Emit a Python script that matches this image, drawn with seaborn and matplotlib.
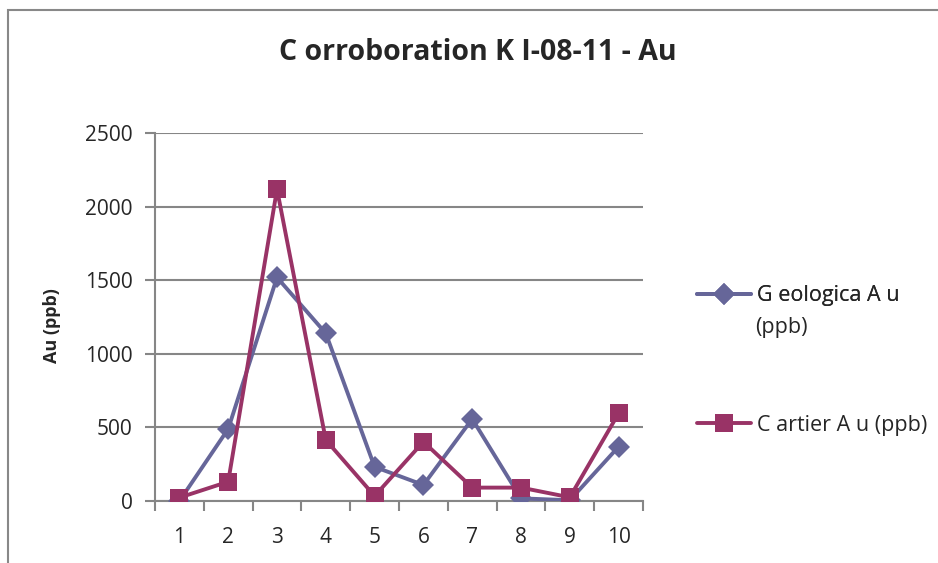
import matplotlib
matplotlib.use("Agg")
import matplotlib.pyplot as plt
import seaborn as sns
import pandas as pd
import numpy as np
from matplotlib.patches import Rectangle
from matplotlib.lines import Line2D

samples = [1, 2, 3, 4, 5, 6, 7, 8, 9, 10]
geologica_au = [0, 490, 1520, 1140, 232, 109, 558, 18, 5, 369]
cartier_au = [23, 131, 2120, 415, 34, 403, 91, 91, 25, 596]
series_names = ["G eologica A u (ppb)", "C artier A u (ppb)"]
y_ticks = [0, 500, 1000, 1500, 2000, 2500]
title = "C orroboration K I-08-11 - Au"
y_label = "Au (ppb)"

geo_color = "#666699"
car_color = "#993366"
grid_color = "#868686"

sns.set_theme(style="white")
plt.rcParams["font.family"] = ["Open Sans", "DejaVu Sans"]

df = pd.DataFrame({
    "sample": samples * 2,
    "value": geologica_au + cartier_au,
    "series": [series_names[0]] * len(samples) + [series_names[1]] * len(samples),
})

fig = plt.figure(figsize=(9.38, 5.63), dpi=100)
fig.patch.set_facecolor("white")
ax = fig.add_axes([155 / 938, 1 - 501 / 563, 488 / 938, (501 - 133.3) / 563])

# chart border
fig.add_artist(Rectangle((8 / 938, -0.05), 1.1, 1 - 10 / 563 + 0.05, transform=fig.transFigure,
                         fill=False, edgecolor="#888888", linewidth=1.5))

sns.lineplot(data=df[df.series == series_names[0]], x="sample", y="value", ax=ax,
             color=geo_color, marker="D", markersize=11, markeredgewidth=0,
             linewidth=2.8, legend=False, zorder=3)
sns.lineplot(data=df[df.series == series_names[1]], x="sample", y="value", ax=ax,
             color=car_color, marker="s", markersize=13.5, markeredgewidth=0,
             linewidth=2.8, legend=False, zorder=4)

ax.set_xlim(0.5, 10.5)
ax.set_ylim(0, 2500)
ax.set_yticks(y_ticks)
ax.set_yticklabels([str(v) for v in y_ticks], fontsize=15)
ax.yaxis.grid(True, color=grid_color, linewidth=1.5)
ax.set_axisbelow(True)

ax.set_xticks(np.arange(0.5, 11, 1.0))
ax.set_xticklabels([])
ax.set_xticks(samples, minor=True)
ax.set_xticklabels([str(s) for s in samples], minor=True, fontsize=15)
ax.tick_params(axis="x", which="major", direction="out", length=7, width=1.5, color=grid_color, bottom=True)
ax.tick_params(axis="x", which="minor", length=0, pad=19, bottom=True)
ax.tick_params(axis="y", direction="out", length=7, width=1.5, color=grid_color, pad=9, left=True)

for side in ["top", "right"]:
    ax.spines[side].set_visible(False)
for side in ["left", "bottom"]:
    ax.spines[side].set_color(grid_color)
    ax.spines[side].set_linewidth(1.5)

ax.set_xlabel("")
ax.set_ylabel("")
fig.text(52 / 938, 1 - 326 / 563, y_label, rotation=90, ha="center", va="center",
         fontsize=13, fontweight="bold")
fig.text(478 / 938, 1 - 53 / 563, title, ha="center", va="center", fontsize=20.5, fontweight="bold")

# legend
h1 = Line2D([], [], color=geo_color, marker="D", markersize=11, markeredgewidth=0, linewidth=2.8)
h2 = Line2D([], [], color=car_color, marker="s", markersize=13.5, markeredgewidth=0, linewidth=2.8)
leg1 = fig.legend([h1], ["G eologica A u"], loc="center left",
                  bbox_to_anchor=(686 / 938, 1 - 296 / 563), frameon=False,
                  fontsize=15.5, handlelength=2.5, handletextpad=0.3, borderpad=0)
fig.text(755 / 938, 1 - 327 / 563, "(ppb)", ha="left", va="center", fontsize=15.5)
leg2 = fig.legend([h2], ["C artier A u (ppb)"], loc="center left",
                  bbox_to_anchor=(686 / 938, 1 - 425 / 563), frameon=False,
                  fontsize=15.5, handlelength=2.5, handletextpad=0.3, borderpad=0)
fig.add_artist(leg1)

fig.savefig("out.png", dpi=100, facecolor="white")
